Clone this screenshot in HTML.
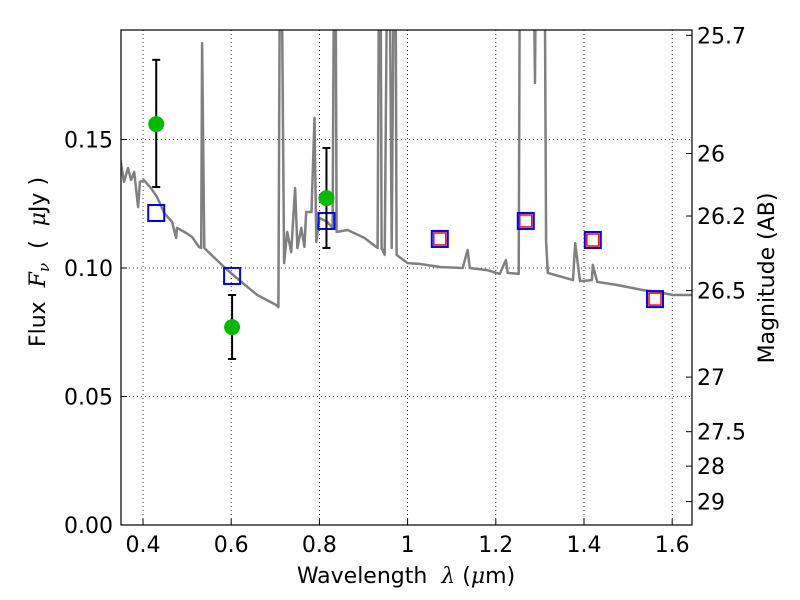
<!DOCTYPE html>
<html><head><meta charset="utf-8"><style>
body{margin:0;background:#fff;}
svg{display:block;font-family:"DejaVu Sans","Liberation Sans",sans-serif;}
</style></head><body>
<svg id="chart" width="800" height="600" viewBox="0 0 800 600">
<defs><clipPath id="clip"><rect x="121" y="30" width="571" height="495"/></clipPath></defs>
<rect x="0" y="0" width="800" height="600" fill="#fff"/>
<g id="grid"></g>
<g id="plot" clip-path="url(#clip)"></g>
<g id="axes"></g>
<text x="406" y="583" font-size="22" text-anchor="middle" xml:space="preserve">Wavelength  <tspan font-style="italic" font-family="DejaVu Serif,serif">λ</tspan> (<tspan font-style="italic" font-family="DejaVu Serif,serif">μ</tspan>m)</text>
<text transform="translate(45,262) rotate(-90)" font-size="22" text-anchor="middle" xml:space="preserve">Flux  <tspan font-style="italic" font-family="DejaVu Serif,serif">F<tspan font-size="15" dy="4">ν</tspan></tspan><tspan dy="-4">  (  </tspan><tspan font-style="italic" font-family="DejaVu Serif,serif">μ</tspan>Jy )</text>
<text transform="translate(774,278) rotate(-90)" font-size="22" text-anchor="middle">Magnitude (AB)</text>
</svg>
<script>
const specWl=[0.348,0.357,0.366,0.373,0.380,0.389,0.393,0.402,0.418,0.432,0.448,0.466,0.475,0.477,0.498,0.511,0.527,0.532,0.534,0.539,0.555,0.584,0.623,0.659,0.702,0.707,0.711,0.713,0.720,0.727,0.736,0.745,0.750,0.759,0.766,0.770,0.782,0.789,0.793,0.800,0.818,0.830,0.834,0.836,0.839,0.864,0.902,0.932,0.936,0.938,0.941,0.948,0.955,0.958,0.964,0.970,0.972,0.975,1.000,1.027,1.073,1.125,1.136,1.141,1.180,1.209,1.223,1.227,1.252,1.255,1.284,1.289,1.292,1.310,1.314,1.318,1.375,1.380,1.391,1.418,1.420,1.430,1.475,1.534,1.566,1.602,1.648];
const specFlux=[0.1428,0.1335,0.1389,0.1342,0.1374,0.1237,0.1335,0.1342,0.1311,0.1276,0.1214,0.1179,0.1117,0.1156,0.1136,0.1121,0.1082,0.1078,0.1875,0.1078,0.1051,0.1004,0.0946,0.0895,0.0856,0.0848,0.25,0.25,0.1019,0.1140,0.1062,0.1311,0.1078,0.1156,0.1082,0.1218,0.1218,0.1584,0.1101,0.1195,0.1179,0.1156,0.25,0.25,0.1140,0.1148,0.1117,0.1078,0.25,0.25,0.1078,0.1051,0.25,0.25,0.1078,0.25,0.25,0.1051,0.1019,0.1016,0.1004,0.1000,0.1070,0.1000,0.0992,0.0977,0.1031,0.0981,0.0977,0.25,0.25,0.172,0.25,0.25,0.1101,0.0981,0.0953,0.1097,0.0949,0.0953,0.1012,0.0946,0.0934,0.0914,0.0907,0.0895,0.0895];
const obsWl=[0.430,0.602,0.816];
const obsFlux=[0.156,0.0770,0.1272];
const obsHi=[0.181,0.0895,0.1467];
const obsLo=[0.1315,0.0646,0.1078];
const modelWl=[0.430,0.602,0.816,1.073,1.268,1.420,1.561];
const modelFlux=[0.1214,0.0969,0.1183,0.1113,0.1183,0.1109,0.0879];
const redWl=[1.073,1.268,1.420,1.561];
const redFlux=[0.1113,0.1183,0.1109,0.0879];
const xTicks=[0.4,0.6,0.8,1.0,1.2,1.4,1.6];
const xTickLabels=["0.4","0.6","0.8","1","1.2","1.4","1.6"];
const yTicks=[0,0.05,0.10,0.15];
const yTickLabels=["0.00","0.05","0.10","0.15"];
const magTicks=[25.7,26,26.2,26.5,27,27.5,28,29];
const magTickLabels=["25.7","26","26.2","26.5","27","27.5","28","29"];

const L=121,R=692,T=30,B=525;
const X=w=>143+(w-0.4)*441;
const Y=f=>525-f*2570;
const NS="http://www.w3.org/2000/svg";
function mk(parent,tag,attrs){const e=document.createElementNS(NS,tag);for(const k in attrs)e.setAttribute(k,attrs[k]);document.getElementById(parent).appendChild(e);return e;}

xTicks.forEach((t,i)=>{
 const g=mk('grid','line',{x1:X(t),x2:X(t),y1:T,y2:B,stroke:'#000','stroke-width':0.8,'stroke-dasharray':'1,3'});
 
 
 const tk=mk('axes','line',{x1:X(t),x2:X(t),y1:B,y2:B-6,stroke:'#000','stroke-width':1});
 
 
 const tx=mk('axes','text',{x:X(t),y:B+27,'font-size':22,'text-anchor':'middle'});
 tx.textContent=xTickLabels[i];
 
 
});
yTicks.forEach((t,i)=>{
 if(t>0){const g=mk('grid','line',{x1:L,x2:R,y1:Y(t),y2:Y(t),stroke:'#000','stroke-width':0.8,'stroke-dasharray':'1,3'});
 
 }
 const tk=mk('axes','line',{x1:L,x2:L+6,y1:Y(t),y2:Y(t),stroke:'#000','stroke-width':1});
 
 
 const tx=mk('axes','text',{x:113,y:Y(t)+8,'font-size':22,'text-anchor':'end'});
 tx.textContent=yTickLabels[i];
 
 
});
magTicks.forEach((m,i)=>{
 const y=Y(Math.pow(10,(23.9-m)/2.5));
 const tk=mk('axes','line',{x1:R-6,x2:R,y1:y,y2:y,stroke:'#000','stroke-width':1});
 
 
 const tx=mk('axes','text',{x:697,y:y+8,'font-size':22});
 tx.textContent=magTickLabels[i];
 
 
});
const frame=mk('axes','rect',{x:L,y:T,width:R-L,height:B-T,fill:'none',stroke:'#000','stroke-width':1.2});



const pts=specWl.map((w,i)=>X(w).toFixed(1)+','+Y(specFlux[i]).toFixed(1)).join(' ');
const sp=mk('plot','polyline',{points:pts,fill:'none',stroke:'#808080','stroke-width':2.5,'stroke-linejoin':'round'});



modelWl.forEach((w,i)=>{
 const s=mk('plot','rect',{x:X(w)-8,y:Y(modelFlux[i])-8,width:16,height:16,fill:'none',stroke:'#0000ff','stroke-width':2});
 
 
});
redWl.forEach((w,i)=>{
 const s=mk('plot','rect',{x:X(w)-6,y:Y(redFlux[i])-6,width:12,height:12,fill:'none',stroke:'#ff0000','stroke-width':1.5});
 
 
});
obsWl.forEach((w,i)=>{
 const x=X(w);
 const e=mk('plot','line',{x1:x,x2:x,y1:Y(obsHi[i]),y2:Y(obsLo[i]),stroke:'#000','stroke-width':2});
 
 
 [obsHi[i],obsLo[i]].forEach(v=>{
  const c=mk('plot','line',{x1:x-4,x2:x+4,y1:Y(v),y2:Y(v),stroke:'#000','stroke-width':2});
  
  
 });
 const p=mk('plot','circle',{cx:x,cy:Y(obsFlux[i]),r:8,fill:'#00bb00'});
 
 
});
</script>
</body></html>
